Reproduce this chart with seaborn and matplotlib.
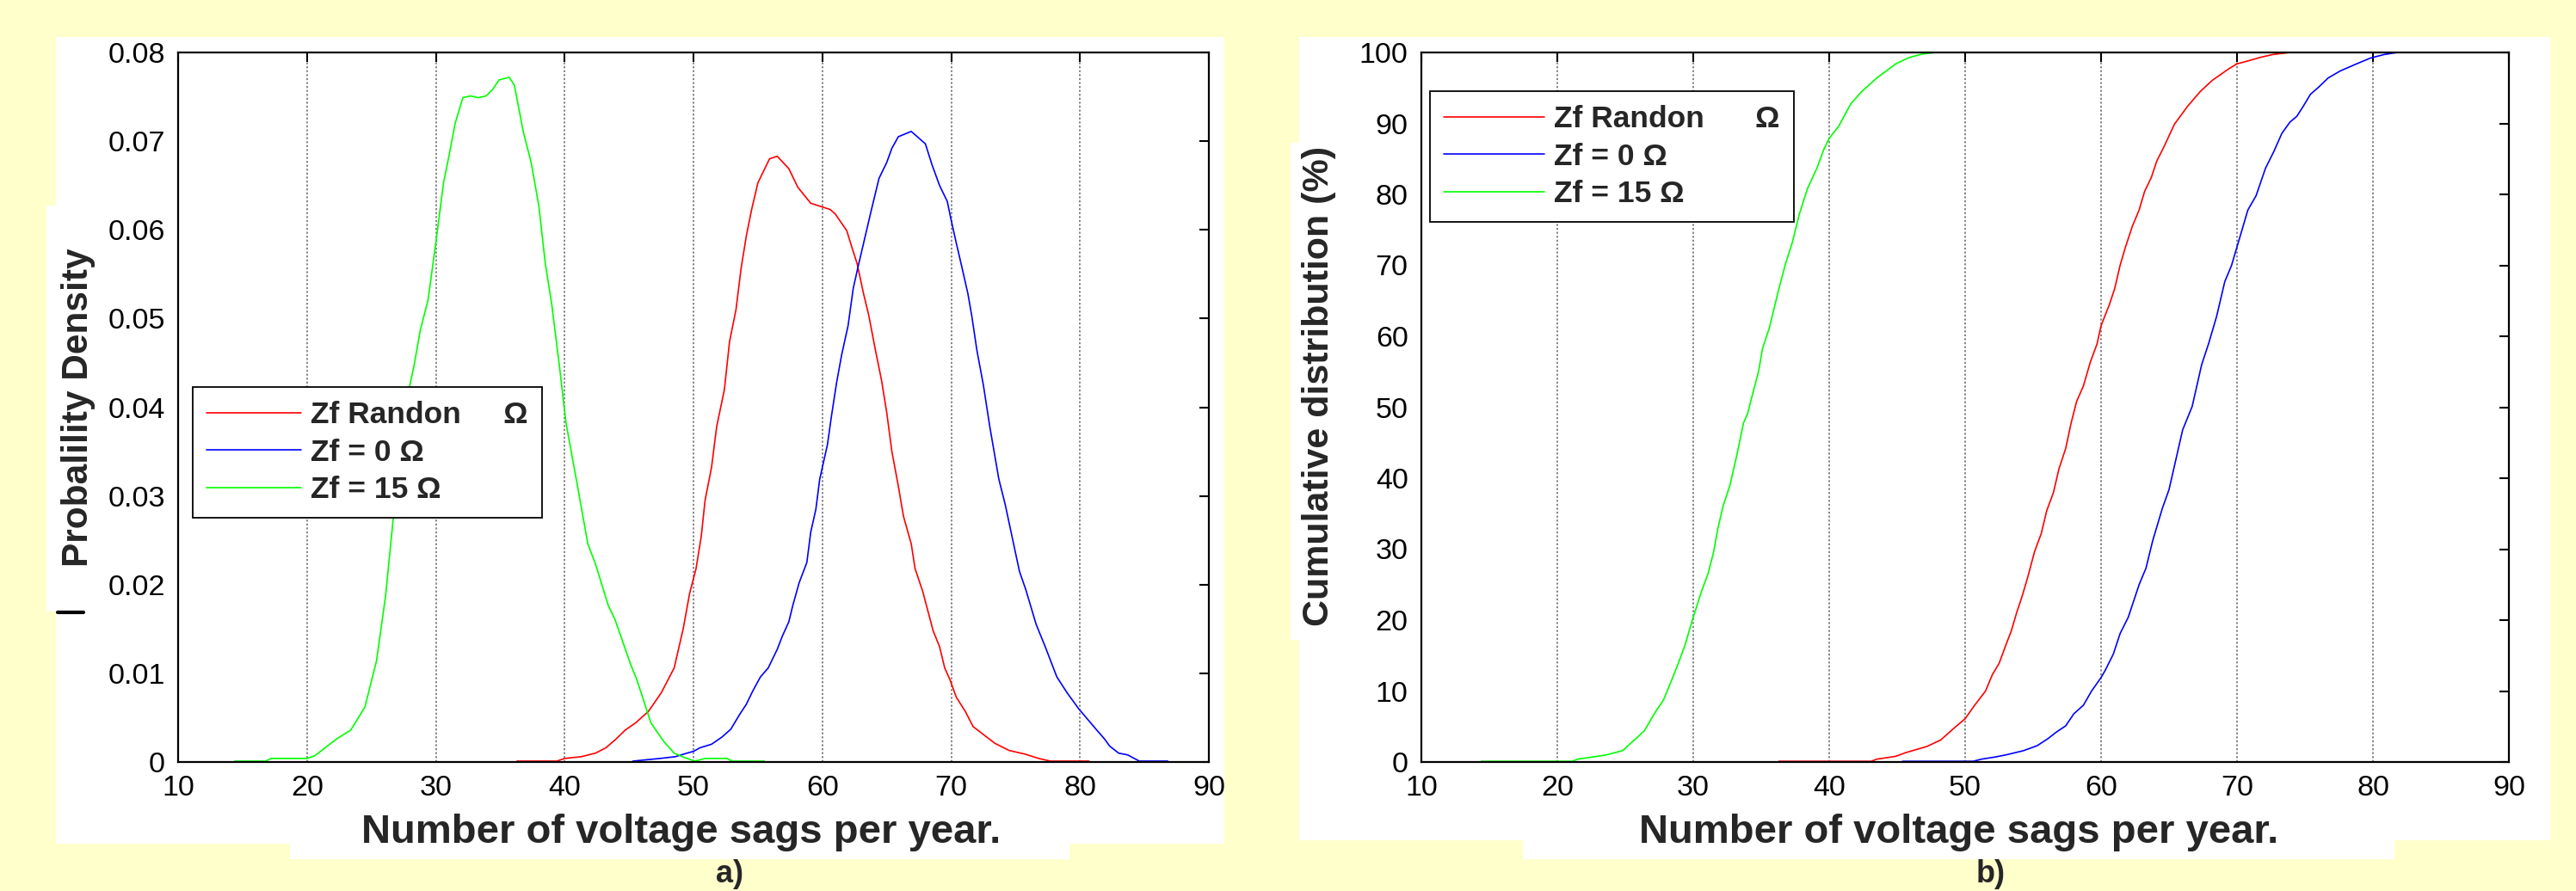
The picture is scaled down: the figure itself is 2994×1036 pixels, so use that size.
import matplotlib
matplotlib.use('Agg')
import matplotlib.pyplot as plt
import seaborn as sns
import pandas as pd
from matplotlib.patches import Rectangle
from matplotlib.lines import Line2D

# ---------------- data ----------------
series_labels = ['Zf Randon     \u03a9', 'Zf = 0 \u03a9', 'Zf = 15 \u03a9']
series_labels_b = ['Zf Randon      \u03a9', 'Zf = 0 \u03a9', 'Zf = 15 \u03a9']
series_colors = ['#ff0000', '#0000ff', '#00ff00']

x_ticks = [10, 20, 30, 40, 50, 60, 70, 80, 90]
pdf_ticks = [0, 0.01, 0.02, 0.03, 0.04, 0.05, 0.06, 0.07, 0.08]
pdf_tick_labels = ['0', '0.01', '0.02', '0.03', '0.04', '0.05', '0.06', '0.07', '0.08']
cdf_ticks = [0, 10, 20, 30, 40, 50, 60, 70, 80, 90, 100]

# a) probability density
pdf_rand_x = [36.3, 39.4, 40.0, 41.3, 42.4, 43.2, 44.0, 44.7, 45.5, 46.5,
              47.5, 48.5, 49.2, 49.7, 50.2, 50.6, 50.9, 51.4, 51.8, 52.4,
              52.8, 53.3, 53.7, 54.1, 54.5, 55.0, 55.9, 56.5, 57.4, 58.1,
              59.1, 60.6, 61.0, 61.9, 62.3, 62.7, 63.2, 63.6, 64.1, 64.6,
              65.0, 65.4, 65.9, 66.3, 66.9, 67.2, 67.8, 68.6, 69.1, 69.5,
              69.9, 70.4, 71.1, 71.7, 72.5, 73.4, 74.5, 75.7, 76.8, 77.7, 80.7]
pdf_rand_y = [0.0001, 0.0001, 0.0004, 0.0006, 0.0010, 0.0016, 0.0026, 0.0036, 0.0044, 0.0057,
              0.0078, 0.0106, 0.0150, 0.0190, 0.0218, 0.0254, 0.0295, 0.0332, 0.0378, 0.0420,
              0.0474, 0.0510, 0.0557, 0.0593, 0.0622, 0.0653, 0.0680, 0.0683, 0.0669, 0.0648,
              0.0630, 0.0623, 0.0618, 0.0599, 0.0580, 0.0562, 0.0528, 0.0504, 0.0466, 0.0430,
              0.0394, 0.0350, 0.0311, 0.0277, 0.0246, 0.0218, 0.0192, 0.0148, 0.0130, 0.0106,
              0.0093, 0.0073, 0.0057, 0.0040, 0.0031, 0.0021, 0.0013, 0.0009, 0.0004, 0.0001, 0.0001]

pdf_z0_x = [45.3, 47.4, 48.6, 49.5, 50.0, 50.5, 51.4, 52.2, 52.9, 53.6,
            54.1, 54.6, 55.2, 55.8, 56.5, 56.9, 57.4, 57.7, 58.2, 58.8,
            59.1, 59.5, 59.8, 60.4, 60.7, 61.1, 61.5, 62.0, 62.4, 62.8,
            63.3, 63.8, 64.4, 65.0, 65.4, 65.9, 66.9, 68.0, 68.5, 69.1,
            69.7, 70.0, 70.4, 70.8, 71.3, 71.6, 72.0, 72.5, 73.0, 73.7,
            74.2, 74.8, 75.3, 75.8, 76.6, 77.3, 78.2, 79.0, 79.9, 80.6,
            81.3, 81.9, 82.3, 83.0, 83.7, 84.6, 86.8]
pdf_z0_y = [0.0001, 0.0004, 0.0006, 0.0010, 0.0012, 0.0016, 0.0020, 0.0028, 0.0037, 0.0054,
            0.0065, 0.0080, 0.0096, 0.0106, 0.0127, 0.0142, 0.0158, 0.0176, 0.0202, 0.0225,
            0.0259, 0.0285, 0.0319, 0.0358, 0.0389, 0.0427, 0.0459, 0.0492, 0.0534, 0.0560,
            0.0591, 0.0622, 0.0658, 0.0676, 0.0692, 0.0705, 0.0711, 0.0697, 0.0674, 0.0650,
            0.0632, 0.0611, 0.0585, 0.0560, 0.0528, 0.0503, 0.0464, 0.0425, 0.0378, 0.0319,
            0.0290, 0.0249, 0.0215, 0.0194, 0.0155, 0.0130, 0.0096, 0.0078, 0.0060, 0.0048,
            0.0036, 0.0026, 0.0018, 0.0010, 0.0008, 0.0001, 0.0001]

pdf_z15_x = [14.4, 16.8, 17.2, 20.0, 20.6, 21.5, 22.3, 23.4, 24.5, 25.4,
             26.1, 26.7, 27.2, 27.6, 28.3, 28.8, 29.4, 30.0, 30.6, 31.1,
             31.5, 32.1, 32.7, 33.3, 33.9, 34.4, 34.9, 35.7, 36.1, 36.8,
             37.4, 38.0, 38.5, 39.0, 39.6, 40.1, 41.0, 41.8, 42.4, 43.4,
             43.9, 45.1, 45.6, 46.7, 47.7, 48.5, 49.3, 50.1, 50.9, 52.6,
             53.0, 55.5]
pdf_z15_y = [0.0001, 0.0001, 0.0004, 0.0004, 0.0007, 0.0017, 0.0026, 0.0036, 0.0062, 0.0114,
             0.0187, 0.0275, 0.0347, 0.0399, 0.0446, 0.0487, 0.0521, 0.0585, 0.0653, 0.0689,
             0.0720, 0.0749, 0.0751, 0.0749, 0.0751, 0.0758, 0.0769, 0.0772, 0.0763, 0.0710,
             0.0676, 0.0627, 0.0562, 0.0516, 0.0446, 0.0383, 0.0311, 0.0246, 0.0223, 0.0176,
             0.0161, 0.0111, 0.0093, 0.0044, 0.0023, 0.0010, 0.0005, 0.0001, 0.0004, 0.0004,
             0.0001, 0.0001]

# b) cumulative distribution (%)
cdf_rand_x = [36.3, 43.1, 43.5, 44.9, 45.6, 47.2, 48.2, 49.2, 50.0, 50.7,
              51.5, 52.0, 52.5, 53.0, 53.4, 53.8, 54.2, 54.6, 55.1, 55.6,
              56.0, 56.5, 56.9, 57.4, 57.8, 58.2, 58.7, 59.2, 59.7, 60.0,
              60.6, 61.0, 61.4, 61.8, 62.3, 62.8, 63.2, 63.7, 64.1, 64.6,
              65.4, 66.4, 67.3, 68.2, 69.4, 70.0, 70.8, 71.7, 72.6, 73.9, 80.7]
cdf_rand_y = [0.1, 0.1, 0.4, 0.8, 1.3, 2.2, 3.1, 4.8, 6.1, 8.0,
              10.0, 12.3, 13.9, 16.5, 18.5, 21.1, 23.4, 26.0, 29.6, 32.2,
              35.4, 38.0, 41.3, 44.2, 47.8, 50.8, 53.0, 56.3, 58.9, 61.5,
              64.4, 66.7, 70.0, 72.6, 75.5, 77.8, 80.4, 82.4, 84.7, 86.6,
              89.9, 92.5, 94.5, 96.1, 97.7, 98.4, 98.8, 99.3, 99.7, 100, 100]

cdf_z0_x = [45.4, 50.6, 51.2, 52.2, 53.0, 54.3, 55.3, 56.1, 56.7, 57.4,
            58.0, 58.7, 59.3, 60.0, 60.3, 60.9, 61.4, 62.0, 62.8, 63.3,
            63.8, 64.5, 65.0, 65.5, 66.0, 66.7, 67.4, 67.9, 68.5, 69.1,
            69.6, 70.0, 70.8, 71.4, 72.1, 72.7, 73.3, 73.9, 74.4, 74.9,
            75.4, 76.0, 76.7, 77.6, 78.8, 79.8, 80.8, 81.8, 86.9]
cdf_z0_y = [0.1, 0.1, 0.4, 0.7, 1.0, 1.6, 2.3, 3.3, 4.2, 5.1,
            6.8, 8.0, 10.0, 11.9, 12.9, 15.2, 18.1, 20.4, 25.0, 27.3,
            31.2, 35.7, 38.4, 42.6, 46.8, 50.1, 56.0, 58.9, 62.8, 67.7,
            70.0, 72.6, 77.8, 79.8, 83.7, 86.0, 88.6, 90.2, 91.0, 92.5,
            94.1, 95.1, 96.4, 97.4, 98.4, 99.2, 99.7, 100, 100]

cdf_z15_x = [14.4, 21.1, 21.5, 22.6, 23.6, 24.8, 25.9, 26.4, 27.2, 27.8,
             28.3, 28.9, 29.4, 29.9, 30.6, 31.1, 31.5, 31.8, 32.2, 32.7,
             33.2, 33.7, 34.0, 34.4, 34.8, 35.1, 35.6, 36.3, 36.8, 37.3,
             37.8, 38.4, 39.1, 39.6, 40.0, 40.7, 41.6, 42.4, 43.5, 44.9,
             45.9, 46.9, 47.9, 55.5]
cdf_z15_y = [0.1, 0.1, 0.4, 0.7, 1.0, 1.6, 3.5, 4.4, 7.0, 8.7,
             11.0, 13.9, 16.5, 19.8, 24.0, 26.6, 29.6, 32.8, 36.1, 39.0,
             43.2, 47.8, 49.1, 52.1, 55.0, 58.3, 61.2, 66.7, 70.3, 73.3,
             77.2, 80.8, 83.7, 86.3, 87.9, 89.6, 92.8, 94.5, 96.4, 98.4,
             99.3, 99.8, 100, 100]

# --------------- figure ---------------
W, H, DPI = 2994, 1036, 100
sns.set_theme(style='white')
plt.rcParams['font.family'] = ['Liberation Sans', 'DejaVu Sans']

fig = plt.figure(figsize=(W / DPI, H / DPI), dpi=DPI, facecolor='#FFFFCC')


def white_box(x0, y0, x1, y1):
    fig.patches.append(Rectangle((x0 / W, 1 - y1 / H), (x1 - x0) / W, (y1 - y0) / H,
                                 transform=fig.transFigure, facecolor='white',
                                 edgecolor='none', zorder=-5))


# white paper panels behind the charts
white_box(65, 43, 1423, 981)
white_box(337, 975, 1243, 999)
white_box(54, 239, 66, 711)
white_box(1510, 43, 2964, 977)
white_box(1770, 970, 2783, 999)
white_box(1500, 166, 1511, 744)

# small stray mark below the left y label
fig.add_artist(Line2D([67 / W, 97 / W], [1 - 712 / H, 1 - 712 / H],
                      transform=fig.transFigure, color='black', linewidth=3))


def make_df(xs, ys):
    rows = []
    for lab, xv, yv in zip(series_labels, xs, ys):
        for a, b in zip(xv, yv):
            rows.append({'x': a, 'y': b, 'series': lab})
    return pd.DataFrame(rows)


df_pdf = make_df([pdf_rand_x, pdf_z0_x, pdf_z15_x], [pdf_rand_y, pdf_z0_y, pdf_z15_y])
df_cdf = make_df([cdf_rand_x, cdf_z0_x, cdf_z15_x], [cdf_rand_y, cdf_z0_y, cdf_z15_y])
palette = dict(zip(series_labels, series_colors))

axes_px = [(207, 61, 1405, 886), (1652, 61, 2916, 886)]
axs = []
for (x0, y0, x1, y1) in axes_px:
    ax = fig.add_axes([x0 / W, 1 - y1 / H, (x1 - x0) / W, (y1 - y0) / H])
    ax.set_facecolor('white')
    axs.append(ax)

ax1, ax2 = axs
for ax, df in ((ax1, df_pdf), (ax2, df_cdf)):
    sns.lineplot(data=df, x='x', y='y', hue='series', hue_order=series_labels,
                 palette=palette, estimator=None, sort=True, linewidth=1.2,
                 legend=False, ax=ax)
    ax.set_xlim(10, 90)
    ax.set_xticks(x_ticks)
    ax.grid(axis='x', linestyle=(0, (1.5, 1.5)), color='0.4', linewidth=1.1)
    ax.grid(axis='y', visible=False)
    for sp in ax.spines.values():
        sp.set_color('black')
        sp.set_linewidth(1.6)
        sp.set_visible(True)
    ax.tick_params(direction='in', length=8, width=1.5, top=True, right=True,
                   labelsize=24.5, pad=11, colors='black')

ax1.set_ylim(0, 0.08)
ax1.set_yticks(pdf_ticks, pdf_tick_labels)
ax2.set_ylim(0, 100)
ax2.set_yticks(cdf_ticks)

xlabel = 'Number of voltage sags per year.'
ax1.set_xlabel(xlabel, fontsize=34, fontweight='bold')
ax1.xaxis.set_label_coords(0.488, -0.114)
ax1.xaxis.label.set_va('baseline')
ax2.set_xlabel(xlabel, fontsize=34, fontweight='bold')
ax2.xaxis.set_label_coords(0.494, -0.114)
ax2.xaxis.label.set_va('baseline')

ax1.set_ylabel('Probalility Density', fontsize=30.5, fontweight='bold')
ax1.yaxis.set_label_coords(-0.0968, 0.5)
ax1.yaxis.label.set_va('center')
ax2.set_ylabel('Cumulative distribution (%)', fontsize=31, fontweight='bold')
ax2.yaxis.set_label_coords(-0.0941, 0.530)
ax2.yaxis.label.set_va('center')

# legends
leg_specs = [(ax1, series_labels, (0.0142, 0.5285), 3.1),
             (ax2, series_labels_b, (0.0079, 0.9455), 3.3)]
for ax, labs, anchor, hl in leg_specs:
    leg = ax.legend(ax.lines[:3], labs, loc='upper left', bbox_to_anchor=anchor,
                    borderaxespad=0, frameon=True, fancybox=False, framealpha=1,
                    edgecolor='black', handlelength=hl, handletextpad=0.33,
                    borderpad=0.45, labelspacing=0.3,
                    prop={'weight': 'bold', 'size': 25.5})
    leg.get_frame().set_linewidth(1.3)
    for ln in leg.get_lines():
        ln.set_linewidth(1.2)

# panel captions at the bottom edge of the page
fig.text(848 / W, 1 - 1034 / H, 'a)', ha='center', va='bottom', fontsize=26, fontweight='bold')
fig.text(2314 / W, 1 - 1034 / H, 'b)', ha='center', va='bottom', fontsize=26, fontweight='bold')

fig.savefig('out.png', dpi=DPI, facecolor=fig.get_facecolor())
